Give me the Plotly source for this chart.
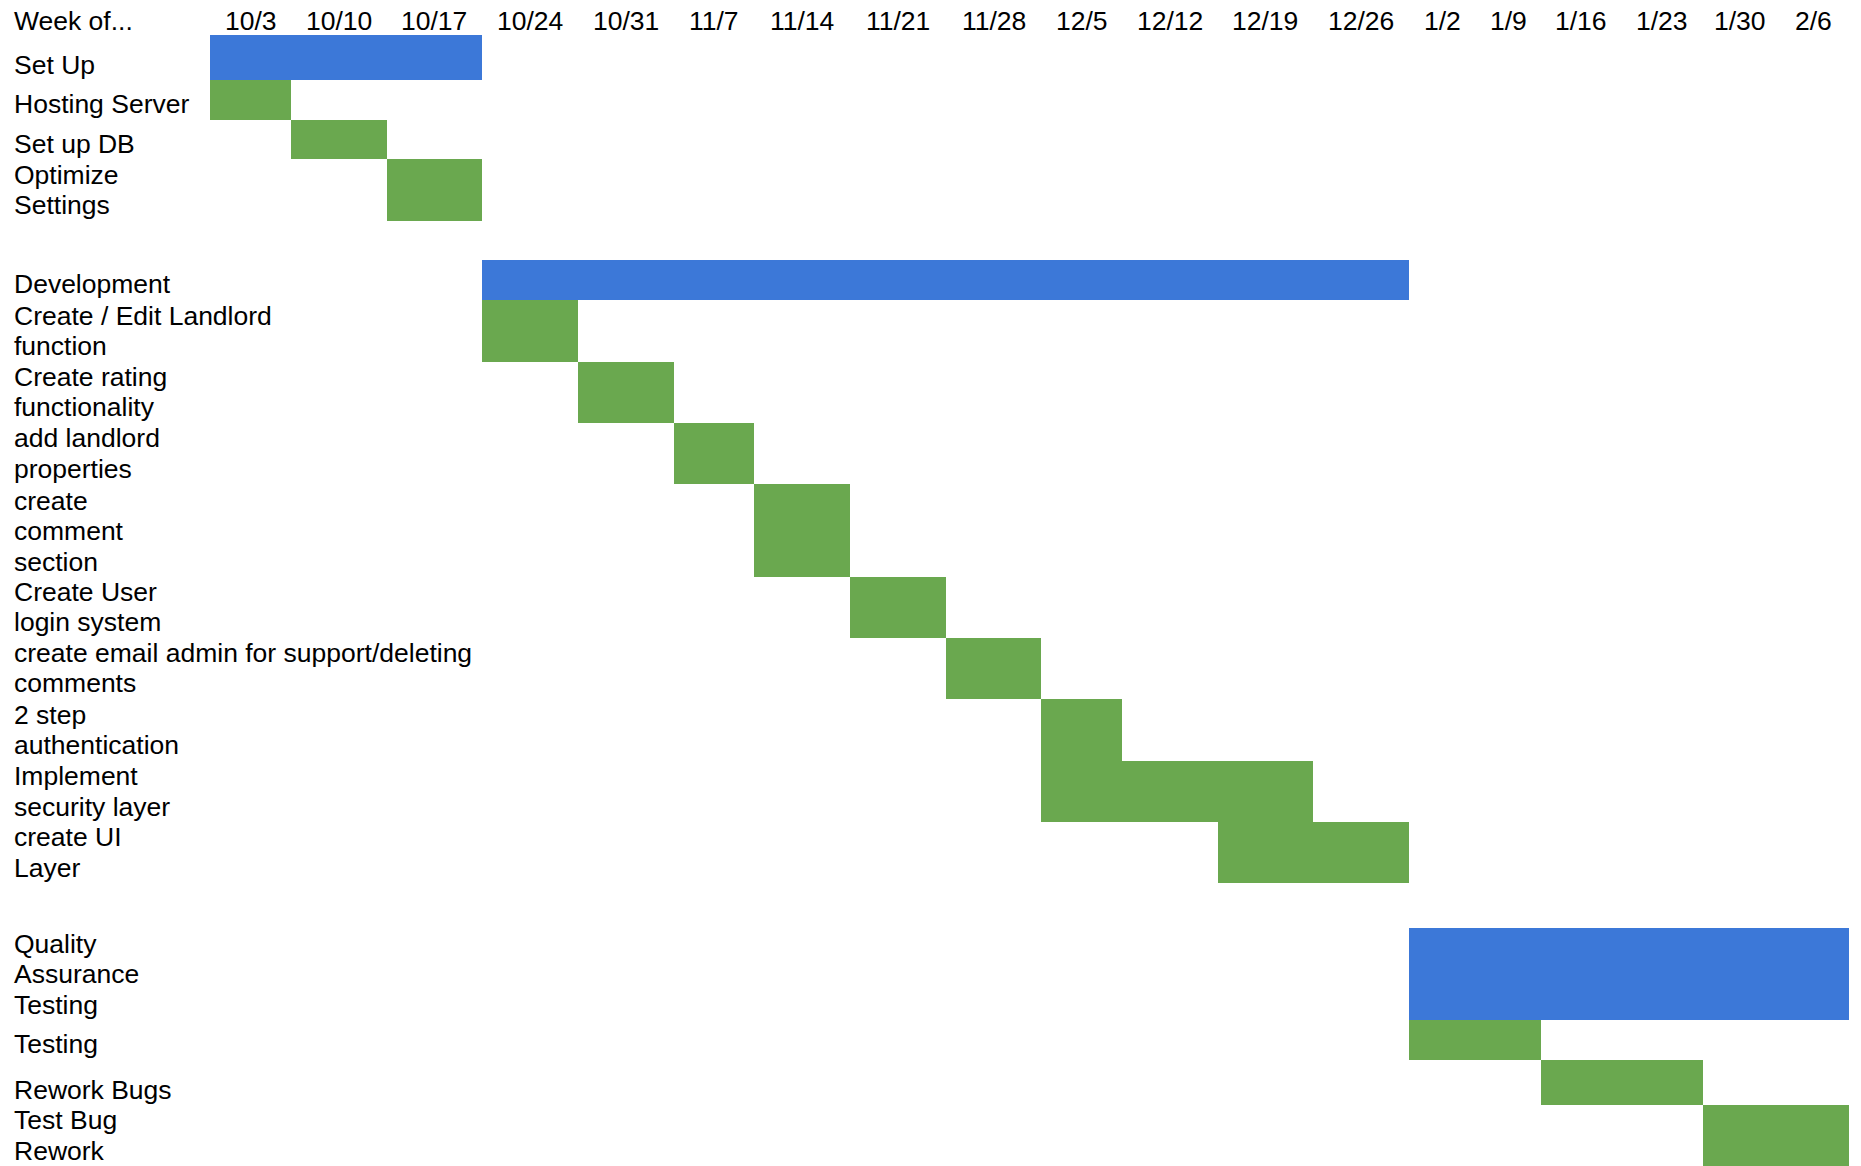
import plotly.graph_objects as go

# ---------------- data ----------------
HEADER = "Week of..."
WEEKS = ["10/3", "10/10", "10/17", "10/24", "10/31", "11/7", "11/14", "11/21",
         "11/28", "12/5", "12/12", "12/19", "12/26", "1/2", "1/9", "1/16",
         "1/23", "1/30", "2/6"]

TASKS = [
    "Set Up", "Hosting Server", "Set up DB", "Optimize\nSettings", "",
    "Development", "Create / Edit Landlord\nfunction", "Create rating\nfunctionality",
    "add landlord\nproperties", "create\ncomment\nsection", "Create User\nlogin system",
    "create email admin for support/deleting\ncomments", "2 step\nauthentication",
    "Implement\nsecurity layer", "create UI\nLayer", "",
    "Quality\nAssurance\nTesting", "Testing", "Rework Bugs", "Test Bug\nRework",
]
KIND = ["phase", "task", "task", "task", None,
        "phase", "task", "task", "task", "task", "task", "task", "task", "task", "task", None,
        "phase", "task", "task", "task"]
START_WEEK = [0, 0, 1, 2, None,
              3, 3, 4, 5, 6, 7, 8, 9, 9, 11, None,
              13, 13, 15, 17]
DURATION_WEEKS = [3, 1, 1, 1, None,
                  10, 1, 1, 1, 1, 1, 1, 1, 3, 2, None,
                  6, 2, 2, 2]

# ---------------- layout (sheet grid geometry, px) ----------------
W, H = 1861, 1166
LABEL_COL_W = 210
COL_W = [81, 95.5, 95.5, 96, 95.5, 80.5, 96, 96, 95, 81, 95.5, 95.5, 96,
         66, 66, 80.5, 81, 75.5, 71]
HEADER_H = 35
ROW_H = [45, 39.5, 39.5, 61.7, 39.3, 39.7, 61.8, 61.2, 61.3, 93, 60.5, 61, 62,
         61.5, 61, 45, 92, 39.5, 45.5, 61]
LINE_H = 30.5
TEXT_X = 12
FONT_SIZE = 26.5
FONT = dict(family="Arial, Liberation Sans, sans-serif", size=FONT_SIZE, color="#000000")
COLORS = {"phase": "#3c78d8", "task": "#6aa84f"}
# distance from a cell's bottom edge to the middle of its last text line
HALF_LINE_BOX = FONT_SIZE * 1.117 / 2 + 2
TEXT_SHIFT = 1.5

col_edges = [LABEL_COL_W]
for w in COL_W:
    col_edges.append(col_edges[-1] + w)
row_tops = [HEADER_H]
for h in ROW_H:
    row_tops.append(row_tops[-1] + h)

fig = go.Figure()
for kind in ["phase", "task"]:
    ys, xs, bases, widths = [], [], [], []
    for i, k in enumerate(KIND):
        if k != kind:
            continue
        s, d = START_WEEK[i], DURATION_WEEKS[i]
        bases.append(col_edges[s])
        xs.append(col_edges[s + d] - col_edges[s])
        ys.append(row_tops[i] + ROW_H[i] / 2)
        widths.append(ROW_H[i])
    fig.add_trace(go.Bar(
        orientation="h", y=ys, x=xs, base=bases, width=widths,
        marker=dict(color=COLORS[kind], line=dict(width=0)),
        hoverinfo="skip", showlegend=False,
    ))

annotations = []
header_y = HEADER_H + 2.5 - HALF_LINE_BOX
annotations.append(dict(x=TEXT_X, y=header_y, text=HEADER, xanchor="left",
                        yanchor="middle", showarrow=False, font=FONT))
for j, wk in enumerate(WEEKS):
    annotations.append(dict(x=(col_edges[j] + col_edges[j + 1]) / 2, y=header_y,
                            text=wk, xanchor="center", yanchor="middle",
                            showarrow=False, font=FONT))
for i, label in enumerate(TASKS):
    if not label:
        continue
    lines = label.split("\n")
    bottom = row_tops[i + 1] + TEXT_SHIFT - HALF_LINE_BOX
    for k, line in enumerate(reversed(lines)):
        annotations.append(dict(x=TEXT_X, y=bottom - k * LINE_H, text=line,
                                xanchor="left", yanchor="middle",
                                showarrow=False, font=FONT))

fig.update_layout(
    width=W, height=H,
    margin=dict(l=0, r=0, t=0, b=0),
    paper_bgcolor="white", plot_bgcolor="white",
    barmode="overlay", bargap=0,
    xaxis=dict(range=[0, W], visible=False, fixedrange=True),
    yaxis=dict(range=[H, 0], visible=False, fixedrange=True),
    annotations=annotations,
)
fig.write_html("out.html")
